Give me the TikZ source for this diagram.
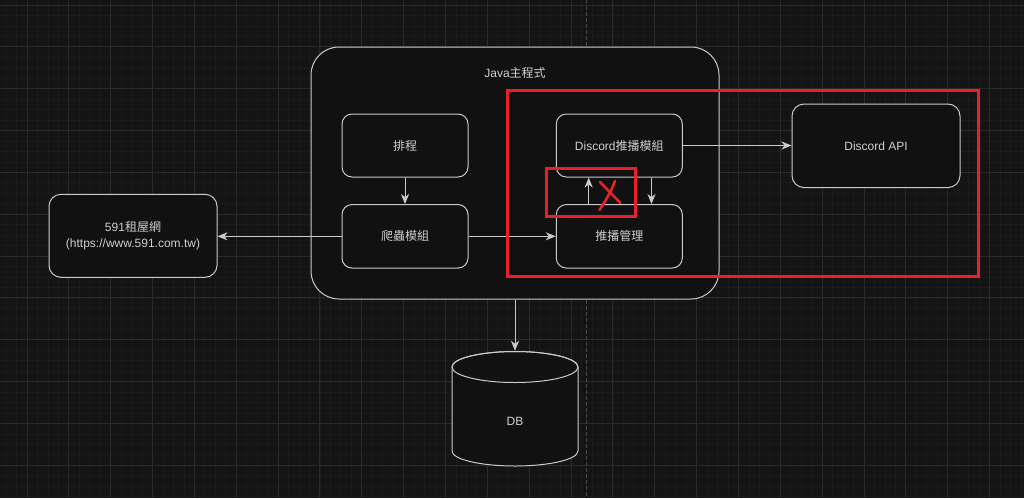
\documentclass[tikz,border=0pt]{standalone}
\usepackage{fontspec}
\setmainfont{Liberation Sans}
\newfontfamily\cjk{Noto Sans CJK TC}
\usetikzlibrary{arrows.meta}
\definecolor{bgc}{HTML}{141414}
\definecolor{gridminor}{HTML}{1A1A1A}
\definecolor{gridmajor}{HTML}{2A2A2A}
\definecolor{pagebrk}{HTML}{4A4A4A}
\definecolor{boxfill}{HTML}{111111}
\definecolor{linec}{HTML}{CACACA}
\definecolor{txt}{HTML}{CFCFCF}
\definecolor{redc}{HTML}{E8202A}
\tikzset{
  box/.style={draw=linec, fill=boxfill, rounded corners=10pt, line width=1pt,
    inner sep=0pt, text=txt, align=center, font=\fontsize{12}{16}\selectfont},
  lbl/.style={text=txt, inner sep=0pt, font=\fontsize{12}{16}\selectfont},
  arr/.style={draw=linec, line width=1pt, -{Stealth[length=10pt,width=8pt,inset=3pt]}},
  redbox/.style={draw=redc, line width=3pt},
  redmark/.style={draw=redc, line width=2.6pt, line cap=round}
}
\begin{document}
\begin{tikzpicture}[x=1pt,y=-1pt]
\useasboundingbox (0,0) rectangle (1024,498);
\fill[bgc] (0,0) rectangle (1024,498);
% grid
\foreach \i in {-3,...,96} \draw[gridminor, line width=0.8pt] ({27+\i*10.4625},0) -- ({27+\i*10.4625},498);
\foreach \i in {-1,...,47} \draw[gridminor, line width=0.8pt] (0,{5+\i*10.4625}) -- (1024,{5+\i*10.4625});
\foreach \i in {-1,...,24} \draw[gridmajor, line width=1pt] ({27+\i*41.85},0) -- ({27+\i*41.85},498);
\foreach \i in {0,...,12} \draw[gridmajor, line width=1pt] (0,{5+\i*41.85}) -- (1024,{5+\i*41.85});
% page break
\draw[pagebrk, line width=1pt, dash pattern=on 4pt off 2pt] (586.5,0) -- (586.5,498);

% main container
\node[box, rounded corners=28pt, minimum width=408pt, minimum height=252pt] (java) at (515,173) {};
\node[lbl] (javalbl) at (515,73) {Java{\cjk 主程式}};

\node[box, minimum width=126pt, minimum height=63pt] (sched) at (405,145.5) {\cjk 排程};
\node[box, minimum width=126pt, minimum height=63.5pt] (crawl) at (405,236.3) {\cjk 爬蟲模組};
\node[box, minimum width=126pt, minimum height=63pt] (dmod) at (619.3,145.5) {Discord{\cjk 推播模組}};
\node[box, minimum width=126pt, minimum height=63.5pt] (mgr) at (619.3,236.3) {\cjk 推播管理};
\node[box, rounded corners=12pt, minimum width=168pt, minimum height=83.5pt] (api) at (876,145.8) {Discord API};
\node[box, rounded corners=12pt, minimum width=168pt, minimum height=83pt] (site) at (133,235.8) {591{\cjk 租屋網}\\(https://www.591.com.tw)};

% DB cylinder
\node[minimum width=126pt, minimum height=115pt, inner sep=0pt] (db) at (515,408.5) {};
\filldraw[draw=linec, fill=boxfill, line width=1pt]
  (452,367) -- (452,451) arc[start angle=180, end angle=360, x radius=63pt, y radius=15pt]
  -- (578,367) arc[start angle=0, end angle=180, x radius=63pt, y radius=15.5pt] -- cycle;
\draw[linec, line width=1pt] (515,367) ellipse [x radius=63pt, y radius=15.5pt];
\node[lbl] (dblbl) at (515,421.5) {DB};

% connectors
\coordinate (upx) at (588.7,0);
\coordinate (downx) at (651.5,0);
\draw[arr] (sched.south) -- (crawl.north);
\draw[arr] (crawl.west) -- (crawl.west -| site.east);
\draw[arr] (crawl.east) -- (mgr.west);
\draw[arr] (dmod.south -| downx) -- (mgr.north -| downx);
\draw[arr] (mgr.north -| upx) -- (dmod.south -| upx);
\draw[arr] (dmod.east) -- (dmod.east -| api.west);
\draw[arr] (java.south) -- (db.north);

% red annotations
\draw[redbox] (507.3,90) rectangle (978.7,276.7);
\draw[redbox] (546,168.3) rectangle (635.3,216.7);
\draw[redmark] (600,182) -- (620.5,203);
\draw[redmark] (615,181) .. controls (612,190) and (606,200) .. (599.5,210);
\end{tikzpicture}
\end{document}
